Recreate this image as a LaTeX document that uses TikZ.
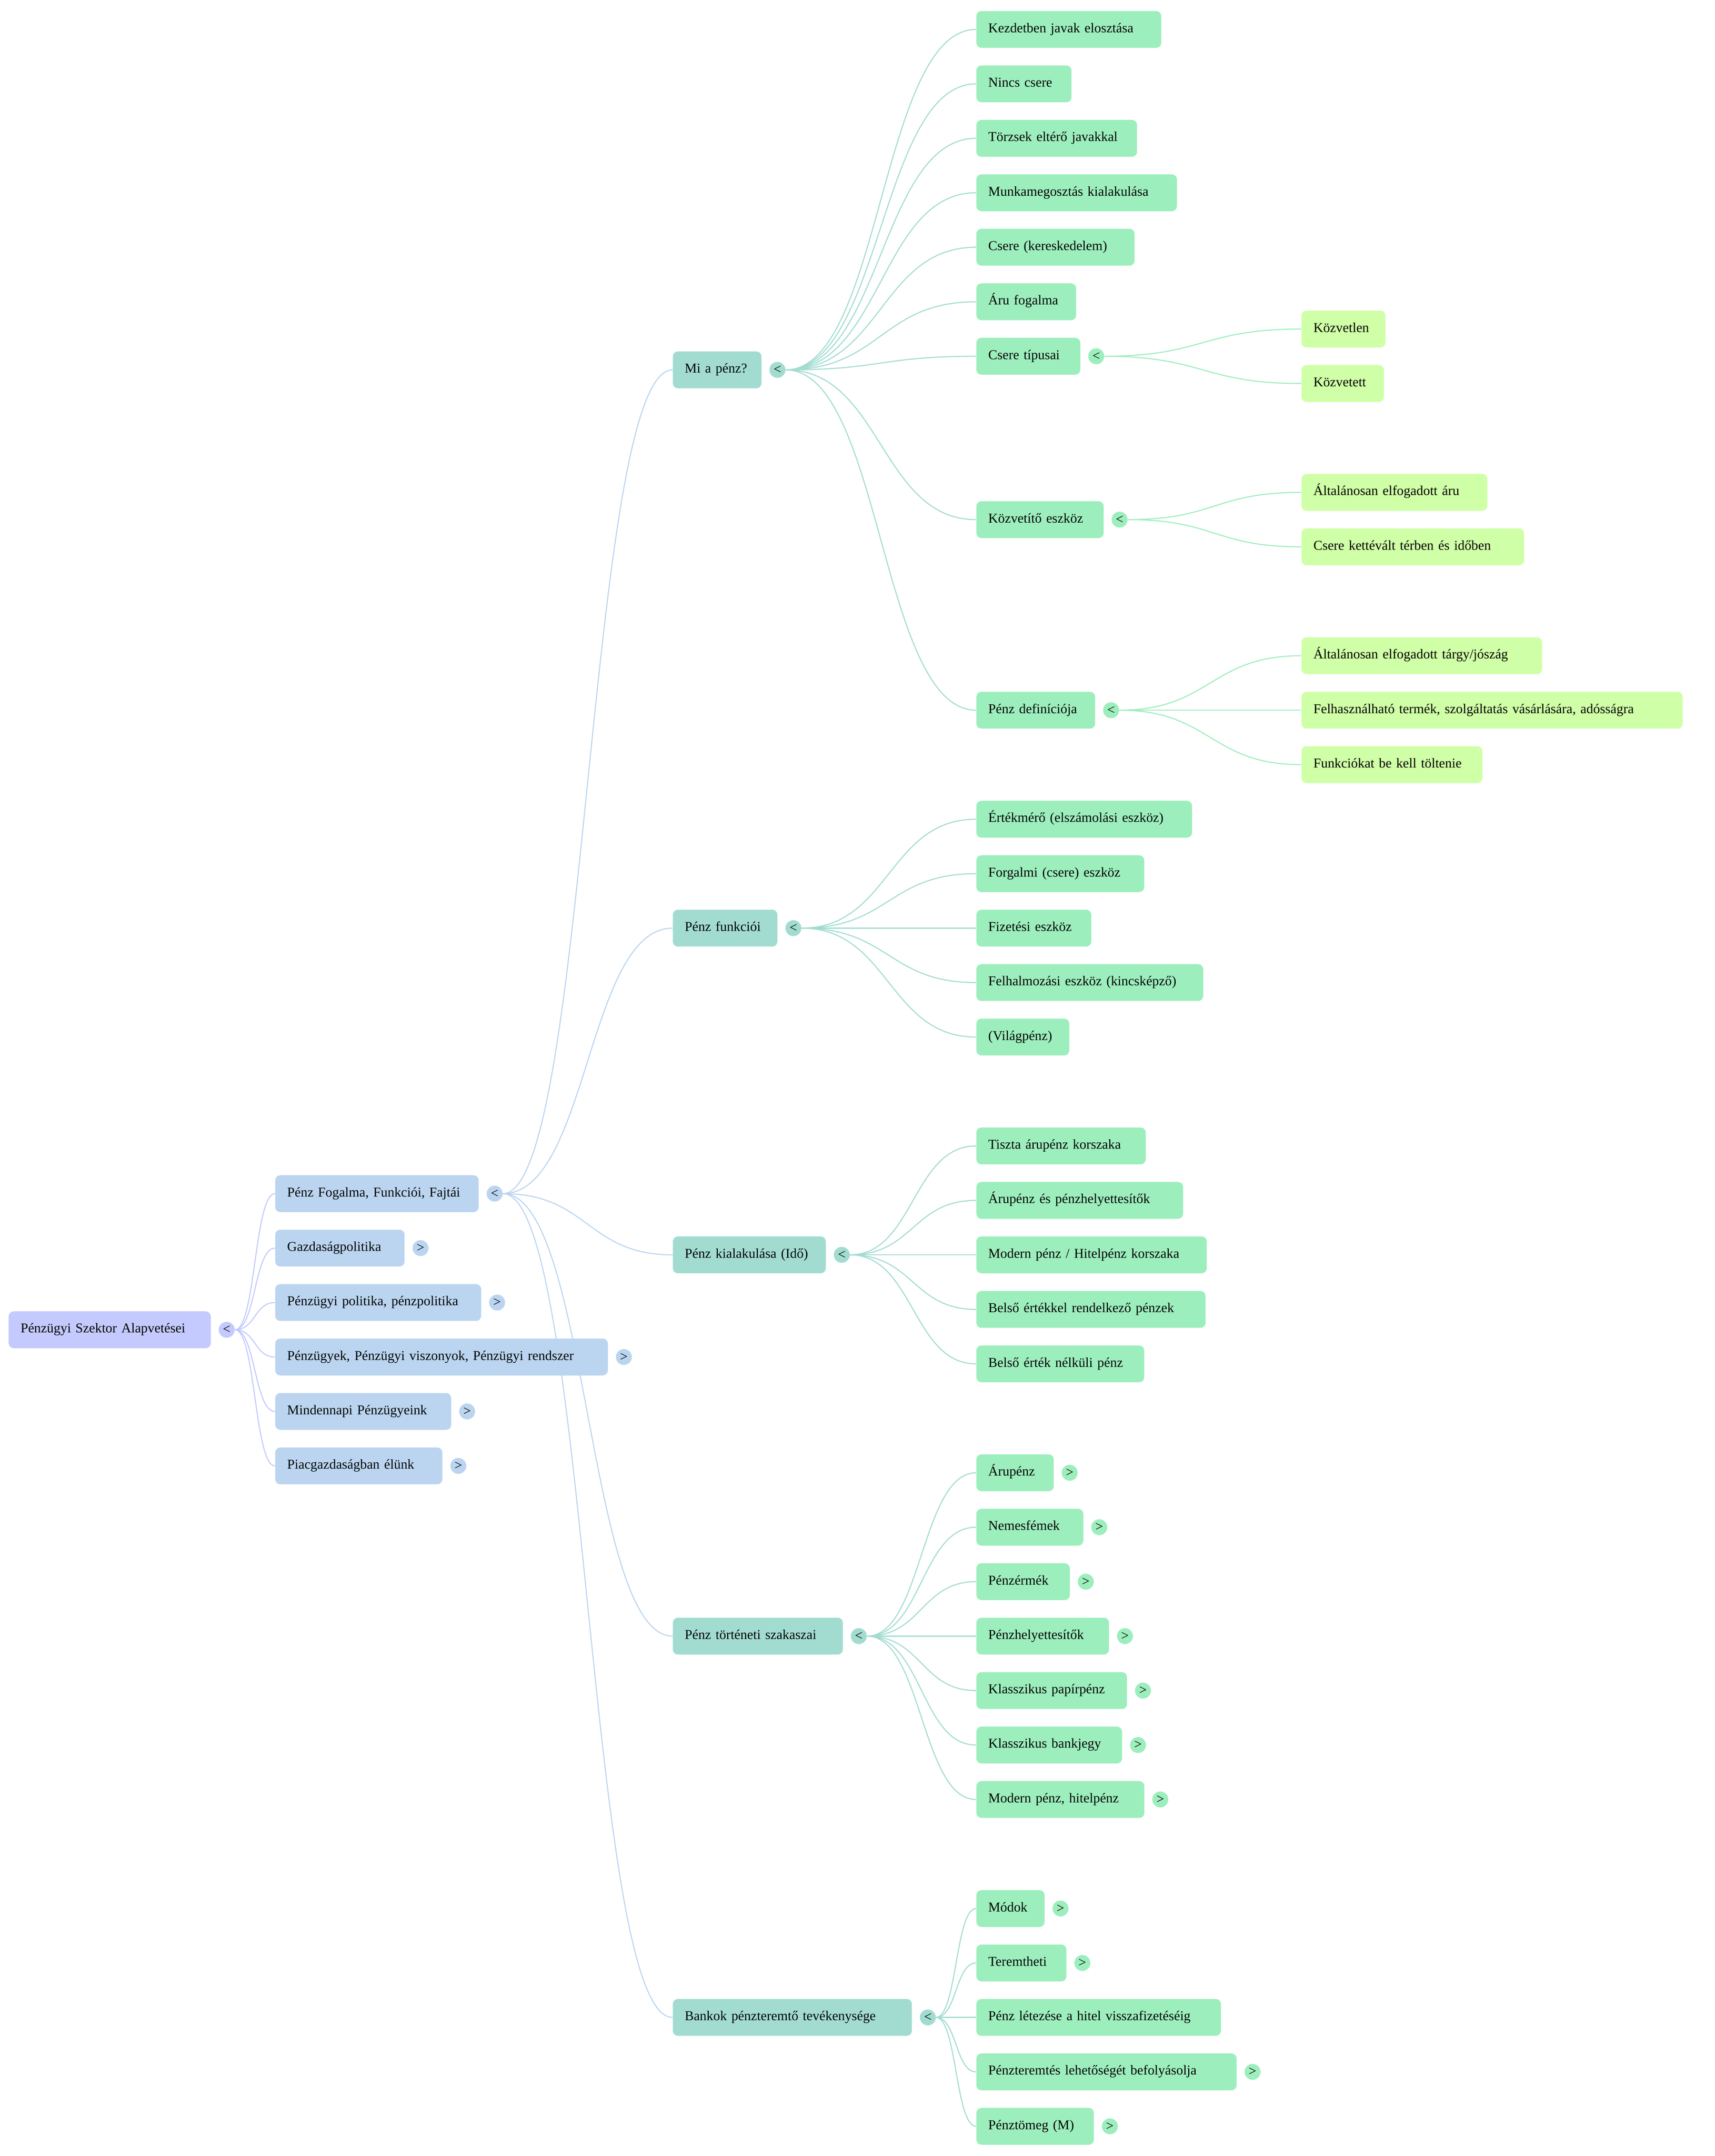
\documentclass[tikz,border=0pt]{standalone}
\usepackage{fontspec}
\setmainfont{Liberation Serif}
\usepackage{tikz}
\usetikzlibrary{positioning}

\definecolor{rootlav}{RGB}{196, 202, 253}
\definecolor{sectblue}{RGB}{187, 213, 240}
\definecolor{topicteal}{RGB}{162, 220, 209}
\definecolor{itemmint}{RGB}{157, 238, 189}
\definecolor{detaillime}{RGB}{207, 255, 166}

\pgfdeclarelayer{paper}
\pgfdeclarelayer{links}
\pgfsetlayers{paper,links,main}

\newcommand{\mapfont}{\fontsize{9.85pt}{11pt}\selectfont}

\tikzset{
  mapbox/.style={rounded corners=3.7pt, anchor=west, minimum height=26.8pt, inner xsep=8.7pt, inner ysep=2pt, align=left, text height=6.6pt, text depth=2.2pt, font=\mapfont},
  rootbox/.style={mapbox, fill=rootlav},
  sectbox/.style={mapbox, fill=sectblue},
  topicbox/.style={mapbox, fill=topicteal},
  itembox/.style={mapbox, fill=itemmint},
  detailbox/.style={mapbox, fill=detaillime},
  togglebtn/.style={circle, fill=#1, inner sep=0pt, minimum size=11.6pt, font=\mapfont},
  linkline/.style={draw=#1, line width=0.75pt}
}

\begin{document}
\begin{tikzpicture}[x=1pt, y=-1pt]
  \begin{pgfonlayer}{paper}
    \fill[white] (0,0) rectangle (1247.2,1568);
  \end{pgfonlayer}
  \useasboundingbox (0,0) rectangle (1247.2,1568);

  % Root
  \node[rootbox, text width=129.6pt] (root) at (6.1, 967.1) {Pénzügyi Szektor Alapvetései};
  \node[togglebtn=rootlav, right=5.4pt of root] (troot) {<};

  % Main sections
  \node[sectbox, text width=130.6pt] (fog) at (200, 868.1) {Pénz Fogalma, Funkciói, Fajtái};
  \node[togglebtn=sectblue, right=5.4pt of fog] (tfog) {<};
  \node[sectbox, text width=76.7pt] (gazd) at (200, 907.7) {Gazdaságpolitika};
  \node[togglebtn=sectblue, right=5.4pt of gazd] (tgazd) {>};
  \node[sectbox, text width=132.4pt] (ppol) at (200, 947.3) {Pénzügyi politika, pénzpolitika};
  \node[togglebtn=sectblue, right=5.4pt of ppol] (tppol) {>};
  \node[sectbox, text width=224.6pt] (pugy) at (200, 986.9) {Pénzügyek, Pénzügyi viszonyok, Pénzügyi rendszer};
  \node[togglebtn=sectblue, right=5.4pt of pugy] (tpugy) {>};
  \node[sectbox, text width=110.6pt] (mind) at (200, 1026.5) {Mindennapi Pénzügyeink};
  \node[togglebtn=sectblue, right=5.4pt of mind] (tmind) {>};
  \node[sectbox, text width=104.2pt] (piac) at (200, 1066.1) {Piacgazdaságban élünk};
  \node[togglebtn=sectblue, right=5.4pt of piac] (tpiac) {>};

  % Topics of Pénz Fogalma
  \node[topicbox, text width=47.1pt] (mi) at (489.2, 269.0) {Mi a pénz?};
  \node[togglebtn=topicteal, right=5.4pt of mi] (tmi) {<};
  \node[topicbox, text width=58.7pt] (funk) at (489.2, 675.0) {Pénz funkciói};
  \node[togglebtn=topicteal, right=5.4pt of funk] (tfunk) {<};
  \node[topicbox, text width=93.9pt] (kial) at (489.2, 912.6) {Pénz kialakulása (Idő)};
  \node[togglebtn=topicteal, right=5.4pt of kial] (tkial) {<};
  \node[topicbox, text width=106.3pt] (tort) at (489.2, 1189.9) {Pénz történeti szakaszai};
  \node[togglebtn=topicteal, right=5.4pt of tort] (ttort) {<};
  \node[topicbox, text width=156.5pt] (bank) at (489.2, 1467.2) {Bankok pénzteremtő tevékenysége};
  \node[togglebtn=topicteal, right=5.4pt of bank] (tbank) {<};

  % Mi a pénz?
  \node[itembox, text width=117.1pt] (kezd) at (710, 21.4) {Kezdetben javak elosztása};
  \node[itembox, text width=51.8pt] (nincs) at (710, 61.0) {Nincs csere};
  \node[itembox, text width=99.5pt] (torzs) at (710, 100.6) {Törzsek eltérő javakkal};
  \node[itembox, text width=128.5pt] (munka) at (710, 140.2) {Munkamegosztás kialakulása};
  \node[itembox, text width=97.7pt] (csere) at (710, 179.8) {Csere (kereskedelem)};
  \node[itembox, text width=55.2pt] (aru) at (710, 219.5) {Áru fogalma};
  \node[itembox, text width=58.2pt] (ctip) at (710, 259.1) {Csere típusai};
  \node[togglebtn=itemmint, right=5.4pt of ctip] (tctip) {<};
  \node[itembox, text width=75.2pt] (kozv) at (710, 377.9) {Közvetítő eszköz};
  \node[togglebtn=itemmint, right=5.4pt of kozv] (tkozv) {<};
  \node[itembox, text width=69.0pt] (pdef) at (710, 516.5) {Pénz definíciója};
  \node[togglebtn=itemmint, right=5.4pt of pdef] (tpdef) {<};

  % Details
  \node[detailbox, text width=43.7pt] (kozvl) at (946.5, 239.3) {Közvetlen};
  \node[detailbox, text width=42.6pt] (kozvt) at (946.5, 278.9) {Közvetett};
  \node[detailbox, text width=117.8pt] (altaru) at (946.5, 358.1) {Általánosan elfogadott áru};
  \node[detailbox, text width=144.6pt] (kettev) at (946.5, 397.7) {Csere kettévált térben és időben};
  \node[detailbox, text width=157.6pt] (alttargy) at (946.5, 476.9) {Általánosan elfogadott tárgy/jószág};
  \node[detailbox, text width=259.9pt] (felhasz) at (946.5, 516.5) {Felhasználható termék, szolgáltatás vásárlására, adósságra};
  \node[detailbox, text width=114.2pt] (funkc) at (946.5, 556.1) {Funkciókat be kell töltenie};

  % Pénz funkciói
  \node[itembox, text width=139.5pt] (ertek) at (710, 595.8) {Értékmérő (elszámolási eszköz)};
  \node[itembox, text width=104.7pt] (forg) at (710, 635.4) {Forgalmi (csere) eszköz};
  \node[itembox, text width=66.2pt] (fiz) at (710, 675.0) {Fizetési eszköz};
  \node[itembox, text width=147.6pt] (felh) at (710, 714.6) {Felhalmozási eszköz (kincsképző)};
  \node[itembox, text width=50.2pt] (vilag) at (710, 754.2) {(Világpénz)};

  % Pénz kialakulása
  \node[itembox, text width=105.8pt] (tiszta) at (710, 833.4) {Tiszta árupénz korszaka};
  \node[itembox, text width=133.0pt] (arupz) at (710, 873.0) {Árupénz és pénzhelyettesítők};
  \node[itembox, text width=150.2pt] (modern) at (710, 912.6) {Modern pénz / Hitelpénz korszaka};
  \node[itembox, text width=149.3pt] (belso) at (710, 952.3) {Belső értékkel rendelkező pénzek};
  \node[itembox, text width=104.7pt] (belsn) at (710, 991.9) {Belső érték nélküli pénz};

  % Pénz történeti szakaszai
  \node[itembox, text width=38.9pt] (arup) at (710, 1071.1) {Árupénz};
  \node[togglebtn=itemmint, right=5.4pt of arup] (tarup) {>};
  \node[itembox, text width=60.4pt] (nemes) at (710, 1110.7) {Nemesfémek};
  \node[togglebtn=itemmint, right=5.4pt of nemes] (tnemes) {>};
  \node[itembox, text width=50.6pt] (erme) at (710, 1150.3) {Pénzérmék};
  \node[togglebtn=itemmint, right=5.4pt of erme] (terme) {>};
  \node[itembox, text width=79.1pt] (helyt) at (710, 1189.9) {Pénzhelyettesítők};
  \node[togglebtn=itemmint, right=5.4pt of helyt] (thelyt) {>};
  \node[itembox, text width=92.2pt] (papir) at (710, 1229.5) {Klasszikus papírpénz};
  \node[togglebtn=itemmint, right=5.4pt of papir] (tpapir) {>};
  \node[itembox, text width=88.6pt] (bjegy) at (710, 1269.1) {Klasszikus bankjegy};
  \node[togglebtn=itemmint, right=5.4pt of bjegy] (tbjegy) {>};
  \node[itembox, text width=104.8pt] (hitel) at (710, 1308.7) {Modern pénz, hitelpénz};
  \node[togglebtn=itemmint, right=5.4pt of hitel] (thitel) {>};

  % Bankok
  \node[itembox, text width=32.2pt] (modok) at (710, 1388.0) {Módok};
  \node[togglebtn=itemmint, right=5.4pt of modok] (tmodok) {>};
  \node[itembox, text width=48.1pt] (terem) at (710, 1427.6) {Teremtheti};
  \node[togglebtn=itemmint, right=5.4pt of terem] (tterem) {>};
  \node[itembox, text width=160.5pt] (letez) at (710, 1467.2) {Pénz létezése a hitel visszafizetéséig};
  \node[itembox, text width=171.9pt] (pter) at (710, 1506.8) {Pénzteremtés lehetőségét befolyásolja};
  \node[togglebtn=itemmint, right=5.4pt of pter] (tpter) {>};
  \node[itembox, text width=68.1pt] (ptom) at (710, 1546.4) {Pénztömeg (M)};
  \node[togglebtn=itemmint, right=5.4pt of ptom] (tptom) {>};

  % Links
  \begin{pgfonlayer}{links}
    \draw[linkline=rootlav] (troot.east) .. controls +(15,0) and +(-15,0) .. (fog.west);
    \draw[linkline=rootlav] (troot.east) .. controls +(15,0) and +(-15,0) .. (gazd.west);
    \draw[linkline=rootlav] (troot.east) .. controls +(15,0) and +(-15,0) .. (ppol.west);
    \draw[linkline=rootlav] (troot.east) .. controls +(15,0) and +(-15,0) .. (pugy.west);
    \draw[linkline=rootlav] (troot.east) .. controls +(15,0) and +(-15,0) .. (mind.west);
    \draw[linkline=rootlav] (troot.east) .. controls +(15,0) and +(-15,0) .. (piac.west);

    \draw[linkline=sectblue] (tfog.east) .. controls +(62.2,0) and +(-62.2,0) .. (mi.west);
    \draw[linkline=sectblue] (tfog.east) .. controls +(62.2,0) and +(-62.2,0) .. (funk.west);
    \draw[linkline=sectblue] (tfog.east) .. controls +(62.2,0) and +(-62.2,0) .. (kial.west);
    \draw[linkline=sectblue] (tfog.east) .. controls +(62.2,0) and +(-62.2,0) .. (tort.west);
    \draw[linkline=sectblue] (tfog.east) .. controls +(62.2,0) and +(-62.2,0) .. (bank.west);

    \draw[linkline=topicteal] (tmi.east) .. controls +(69.7,0) and +(-69.7,0) .. (kezd.west);
    \draw[linkline=topicteal] (tmi.east) .. controls +(69.7,0) and +(-69.7,0) .. (nincs.west);
    \draw[linkline=topicteal] (tmi.east) .. controls +(69.7,0) and +(-69.7,0) .. (torzs.west);
    \draw[linkline=topicteal] (tmi.east) .. controls +(69.7,0) and +(-69.7,0) .. (munka.west);
    \draw[linkline=topicteal] (tmi.east) .. controls +(69.7,0) and +(-69.7,0) .. (csere.west);
    \draw[linkline=topicteal] (tmi.east) .. controls +(69.7,0) and +(-69.7,0) .. (aru.west);
    \draw[linkline=topicteal] (tmi.east) .. controls +(69.7,0) and +(-69.7,0) .. (ctip.west);
    \draw[linkline=topicteal] (tmi.east) .. controls +(69.7,0) and +(-69.7,0) .. (kozv.west);
    \draw[linkline=topicteal] (tmi.east) .. controls +(69.7,0) and +(-69.7,0) .. (pdef.west);

    \draw[linkline=itemmint] (tctip.east) .. controls +(72,0) and +(-72,0) .. (kozvl.west);
    \draw[linkline=itemmint] (tctip.east) .. controls +(72,0) and +(-72,0) .. (kozvt.west);
    \draw[linkline=itemmint] (tkozv.east) .. controls +(63.5,0) and +(-63.5,0) .. (altaru.west);
    \draw[linkline=itemmint] (tkozv.east) .. controls +(63.5,0) and +(-63.5,0) .. (kettev.west);
    \draw[linkline=itemmint] (tpdef.east) .. controls +(66.5,0) and +(-66.5,0) .. (alttargy.west);
    \draw[linkline=itemmint] (tpdef.east) .. controls +(66.5,0) and +(-66.5,0) .. (felhasz.west);
    \draw[linkline=itemmint] (tpdef.east) .. controls +(66.5,0) and +(-66.5,0) .. (funkc.west);

    \draw[linkline=topicteal] (tfunk.east) .. controls +(63.9,0) and +(-63.9,0) .. (ertek.west);
    \draw[linkline=topicteal] (tfunk.east) .. controls +(63.9,0) and +(-63.9,0) .. (forg.west);
    \draw[linkline=topicteal] (tfunk.east) .. controls +(63.9,0) and +(-63.9,0) .. (fiz.west);
    \draw[linkline=topicteal] (tfunk.east) .. controls +(63.9,0) and +(-63.9,0) .. (felh.west);
    \draw[linkline=topicteal] (tfunk.east) .. controls +(63.9,0) and +(-63.9,0) .. (vilag.west);

    \draw[linkline=topicteal] (tkial.east) .. controls +(46.3,0) and +(-46.3,0) .. (tiszta.west);
    \draw[linkline=topicteal] (tkial.east) .. controls +(46.3,0) and +(-46.3,0) .. (arupz.west);
    \draw[linkline=topicteal] (tkial.east) .. controls +(46.3,0) and +(-46.3,0) .. (modern.west);
    \draw[linkline=topicteal] (tkial.east) .. controls +(46.3,0) and +(-46.3,0) .. (belso.west);
    \draw[linkline=topicteal] (tkial.east) .. controls +(46.3,0) and +(-46.3,0) .. (belsn.west);

    \draw[linkline=topicteal] (ttort.east) .. controls +(40,0) and +(-40,0) .. (arup.west);
    \draw[linkline=topicteal] (ttort.east) .. controls +(40,0) and +(-40,0) .. (nemes.west);
    \draw[linkline=topicteal] (ttort.east) .. controls +(40,0) and +(-40,0) .. (erme.west);
    \draw[linkline=topicteal] (ttort.east) .. controls +(40,0) and +(-40,0) .. (helyt.west);
    \draw[linkline=topicteal] (ttort.east) .. controls +(40,0) and +(-40,0) .. (papir.west);
    \draw[linkline=topicteal] (ttort.east) .. controls +(40,0) and +(-40,0) .. (bjegy.west);
    \draw[linkline=topicteal] (ttort.east) .. controls +(40,0) and +(-40,0) .. (hitel.west);

    \draw[linkline=topicteal] (tbank.east) .. controls +(15,0) and +(-15,0) .. (modok.west);
    \draw[linkline=topicteal] (tbank.east) .. controls +(15,0) and +(-15,0) .. (terem.west);
    \draw[linkline=topicteal] (tbank.east) .. controls +(15,0) and +(-15,0) .. (letez.west);
    \draw[linkline=topicteal] (tbank.east) .. controls +(15,0) and +(-15,0) .. (pter.west);
    \draw[linkline=topicteal] (tbank.east) .. controls +(15,0) and +(-15,0) .. (ptom.west);
  \end{pgfonlayer}
\end{tikzpicture}
\end{document}
